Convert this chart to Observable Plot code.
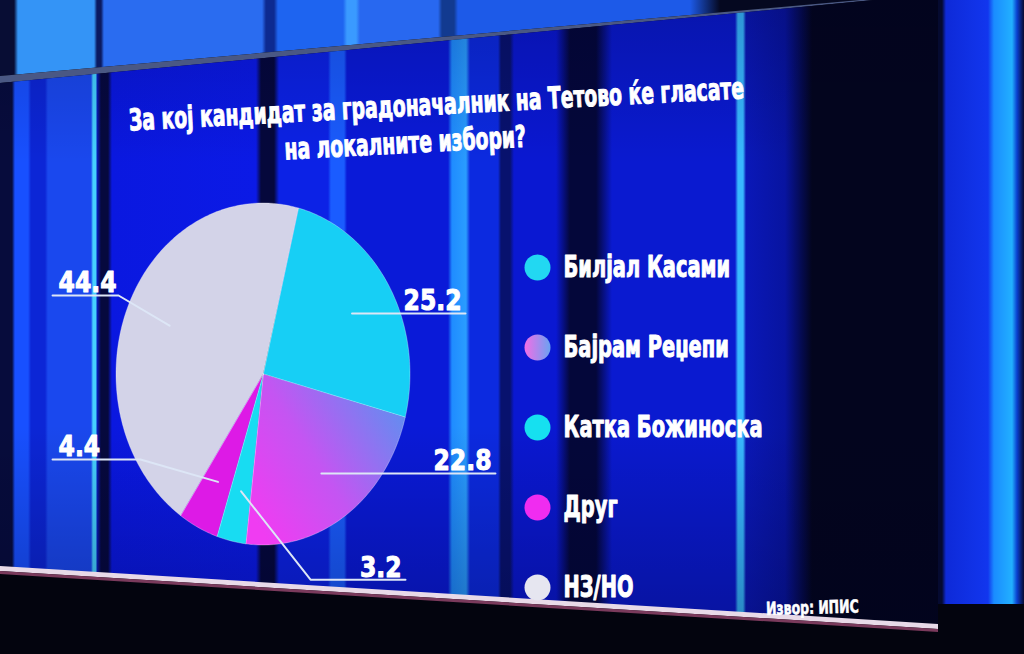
<!DOCTYPE html>
<html>
<head>
<meta charset="utf-8">
<script src="https://cdn.jsdelivr.net/npm/d3@7"></script>
<script src="https://cdn.jsdelivr.net/npm/@observablehq/plot@0.6"></script>
<style>
html,body{margin:0;padding:0;width:1024px;height:654px;overflow:hidden;background:#03040e;}
#stage{position:relative;width:1024px;height:654px;overflow:hidden;
  font-family:"DejaVu Sans Condensed","DejaVu Sans",sans-serif;font-stretch:condensed;font-weight:bold;color:#fff;}
.layer{position:absolute;left:0;top:0;width:1024px;height:654px;}
#upper{background:linear-gradient(90deg,#080d34 0,#080d34 14px,#3494f6 18px,#3494f6 94px,#0b1a60 97px,#0b1a60 101px,
  #2a6cf0 104px,#2a6cf0 262px,#0d2a90 266px,#0d2a90 274px,#1e64f0 278px,#1e64f0 343px,#3a9aff 347px,#3a9aff 356px,
  #2868f0 360px,#2868f0 438px,#123a90 442px,#123a90 454px,#1d5ae8 458px,#1d5ae8 690px,#050820 720px,#050820 1024px);
  clip-path:polygon(0 0,860px 0,0 76px);}
#bezelTop{background:#4a5884;clip-path:polygon(0 76px,860px 0,874px 0,0 83px);}
#panel{background:linear-gradient(90deg,
  #070c3c 0,#070c3c 12px,#1850ff 15px,#1850ff 28px,#0c26d6 31px,#0c26d6 45px,#1a48ee 48px,#1a48ee 91px,
  #46d0ff 93px,#46d0ff 96px,#0a1cc0 97px,#06093e 101px,#06093e 108px,#0a18e0 112px,#0b1ae6 256px,
  #05083c 261px,#05083c 274px,#0c22e6 279px,#0c22e6 328px,#1a5cff 331px,#1a5cff 344px,#0a1ad8 347px,#0a1ad8 448px,
  #1f8cff 452px,#2a9cff 466px,#0c2ae0 470px,#0c2ae0 498px,#08126e 501px,#08126e 510px,#0a18d2 514px,#0a18d2 556px,
  #04073a 570px,#04073a 596px,#0a1ad0 612px,#0a1ad0 735px,#38b8ff 738px,#38b8ff 743px,#0a18b8 746px,#0814a0 785px,
  #03051e 812px,#03051e 938px);
  clip-path:polygon(0 83px,874px 0,938px 0,938px 626px,0 567px);}
#panelShade{background:linear-gradient(180deg,rgba(0,0,30,0.2) 0,rgba(0,0,0,0) 25%,rgba(0,0,0,0) 65%,rgba(0,0,25,0.3) 100%);
  clip-path:polygon(0 83px,874px 0,938px 0,938px 626px,0 567px);}
#bezelBot{background:#e8dae8;clip-path:polygon(0 566px,938px 624px,938px 629px,0 571px);}
#bezelBot2{background:#7a3a5c;clip-path:polygon(0 571px,938px 629px,938px 632px,0 574px);}
#right{left:938px;width:86px;height:604px;background:linear-gradient(90deg,#050a30 0,#050a30 4px,#0e2ad8 8px,#1236ee 50px,
  #1a8cff 56px,#22b0ff 74px,#0a40d0 79px,#060a30 86px);}
#title{position:absolute;left:0;top:86px;width:850px;text-align:center;font-size:30px;line-height:37px;
  -webkit-text-stroke:1px #fff;transform-origin:425px 37px;white-space:nowrap;}
#title span{display:inline-block;}
#title span.l2{position:relative;left:-30px;}
#chart{position:absolute;left:0;top:160px;}
#legend{position:absolute;left:505px;top:240px;}
#source{position:absolute;left:766px;top:598px;font-size:18px;white-space:nowrap;transform-origin:0 50%;
  -webkit-text-stroke:0.6px #fff;}
</style>
</head>
<body>
<div id="stage">
  <div class="layer" id="upper"></div>
  <div class="layer" id="bezelTop"></div>
  <div class="layer" id="panel"></div>
  <div class="layer" id="panelShade"></div>
  <div class="layer" id="bezelBot"></div>
  <div class="layer" id="bezelBot2"></div>
  <div class="layer" id="right"></div>
  <div id="title"></div>
  <div id="chart"></div>
  <div id="legend"></div>
  <div id="source"></div>
</div>
<script>
// ---- data ----
const names = ["Билјал Касами", "Бајрам Реџепи", "Катка Божиноска", "Друг", "НЗ/НО"];
const values = [25.2, 22.8, 3.2, 4.4, 44.4];
const valueLabels = ["25.2", "22.8", "3.2", "4.4", "44.4"];
const titleLines = ["За кој кандидат за градоначалник на Тетово ќе гласате", "на локалните избори?"];
const sourceText = "Извор: ИПИС";

// ---- styles ----
const sliceColors = ["#17cff5", "url(#gradSlice)", "#18dcf2", "#dd1ae6", "#d3d3e8"];
const legendColors = ["#22d8f2", "url(#gradLegend)", "#16e0f0", "#f02cf0", "#e6e6f0"];
const fontFamily = '"DejaVu Sans Condensed","DejaVu Sans",sans-serif';

// annotation layout for leader lines (in pie-radius units)
const leaderLayout = {
  "Билјал Касами": {elbow: null, end: 1.374},
  "Бајрам Реџепи": {elbow: null, end: 1.578},
  "Катка Божиноска": {elbow: [0.32, 1.20], end: 0.966},
  "Друг": {elbow: [-0.837, 0.497], end: -1.435},
  "НЗ/НО": {elbow: [-0.986, -0.462], end: -1.435}
};

// ---- title & source ----
const titleEl = document.getElementById("title");
titleEl.innerHTML = titleLines.map((t, i) => `<span class="l${i + 1}">${t}</span>`).join("<br>");
const w1 = titleEl.querySelector("span").offsetWidth;
titleEl.style.transform = `rotate(-3deg) scaleX(${616 / w1})`;
const srcEl = document.getElementById("source");
srcEl.textContent = sourceText;
srcEl.style.transform = `rotate(-1.5deg) scaleX(${93 / srcEl.offsetWidth})`;

function defsMark(html) {
  return () => {
    const d = document.createElementNS("http://www.w3.org/2000/svg", "defs");
    d.innerHTML = html;
    return d;
  };
}
// compress SVG text horizontally (condensed face)
function condense(svg, factor) {
  svg.querySelectorAll("text").forEach(t => {
    const L = t.getComputedTextLength();
    if (L > 0) {
      t.setAttribute("textLength", L * factor);
      t.setAttribute("lengthAdjust", "spacingAndGlyphs");
    }
  });
}

// ---- pie geometry ----
const rows = names.map((name, i) => ({name, value: values[i], label: valueLabels[i]}));
const startAngle = 14 * Math.PI / 180;
const arcs = d3.pie().sort(null).value(d => d.value)
  .startAngle(startAngle).endAngle(startAngle + 2 * Math.PI)(rows);

const arcPoints = arcs.flatMap(a => {
  const n = Math.max(2, Math.ceil((a.endAngle - a.startAngle) / (2 * Math.PI) * 360));
  return d3.range(n + 1).map(j => {
    const t = a.startAngle + (a.endAngle - a.startAngle) * j / n;
    return {name: a.data.name, x: Math.sin(t), y: -Math.cos(t)};
  });
});

const leaders = arcs.map(a => {
  const mid = (a.startAngle + a.endAngle) / 2;
  const start = [0.7 * Math.sin(mid), -0.7 * Math.cos(mid)];
  const lay = leaderLayout[a.data.name];
  const elbow = lay.elbow || start;
  return {name: a.data.name, label: a.data.label, start, elbow, end: [lay.end, elbow[1]], side: lay.end > 0 ? 1 : -1};
});
const leaderPoints = leaders.flatMap(l => [l.start, l.elbow, l.end].map(p => ({name: l.name, x: p[0], y: p[1]})));
const labelRows = leaders.map(l => ({label: l.label, x: l.end[0], y: l.end[1], side: l.side}));

const labelStyle = {fill: "white", stroke: "white", strokeWidth: 1, fontSize: 29, fontWeight: "bold", lineAnchor: "bottom", dy: -3};
const chart = Plot.plot({
  width: 1024,
  height: 470,
  x: {domain: [-1, 1], range: [116, 410], axis: null},
  y: {domain: [-1, 1], range: [43, 385], axis: null},
  color: {domain: names, range: sliceColors},
  style: {background: "transparent", fontFamily, overflow: "visible", color: "white"},
  marks: [
    defsMark(`<linearGradient id="gradSlice" x1="0.05" y1="0.85" x2="1" y2="0.2">
      <stop offset="0" stop-color="#f03cf2"/><stop offset="0.45" stop-color="#c455f2"/><stop offset="1" stop-color="#5f8ff0"/></linearGradient>`),
    Plot.area(arcPoints, {x1: "x", y1: "y", x2: 0, y2: 0, z: "name", fill: "name",
      stroke: "#ffffff", strokeOpacity: 0.3, strokeWidth: 1}),
    Plot.line(leaderPoints, {x: "x", y: "y", z: "name", stroke: "#dde6f6", strokeWidth: 2}),
    Plot.text(labelRows.filter(d => d.side > 0), {x: "x", y: "y", text: "label", textAnchor: "end", dx: -4, ...labelStyle}),
    Plot.text(labelRows.filter(d => d.side < 0), {x: "x", y: "y", text: "label", textAnchor: "start", dx: 6, ...labelStyle})
  ]
});
document.getElementById("chart").append(chart);
condense(chart, 0.9);

const legend = Plot.plot({
  width: 300,
  height: 380,
  x: {domain: [0, 1], range: [0, 300], axis: null},
  y: {type: "point", domain: names, range: [27, 347], padding: 0, axis: null},
  color: {domain: names, range: legendColors},
  style: {background: "transparent", fontFamily, overflow: "visible"},
  marks: [
    defsMark(`<linearGradient id="gradLegend" x1="0" y1="0" x2="1" y2="0">
      <stop offset="0" stop-color="#f26ee6"/><stop offset="1" stop-color="#6aa2f2"/></linearGradient>`),
    Plot.dot(names, {x: 0, y: d => d, fill: d => d, r: 13, dx: 32}),
    Plot.text(names, {x: 0, y: d => d, text: d => d, dx: 58, textAnchor: "start", fill: "white",
      stroke: "white", strokeWidth: 1, fontSize: 30, fontWeight: "bold"})
  ]
});
document.getElementById("legend").append(legend);
condense(legend, 0.72);
</script>
</body>
</html>
